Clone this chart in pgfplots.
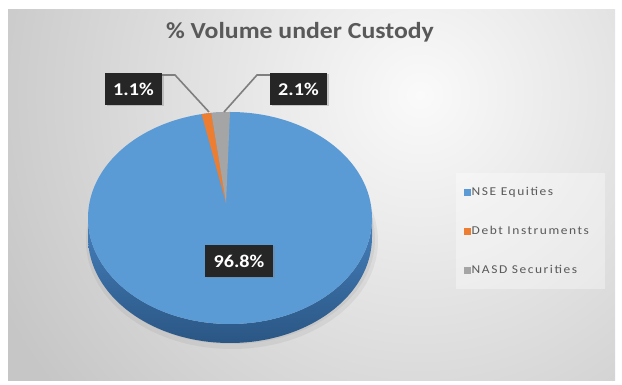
\documentclass[border=0pt]{standalone}
\usepackage{pgfplots}
\pgfplotsset{compat=1.18}
\usepackage{fontspec}
\setmainfont{Carlito}[FakeStretch=1.12]
\newfontfamily\legfont{Carlito}[FakeStretch=1.12, LetterSpace=13]
\usetikzlibrary{shadows}
\definecolor{pieblue}{HTML}{5B9BD5}
\definecolor{pieorange}{HTML}{ED7D31}
\definecolor{piegray}{HTML}{A5A5A5}
\definecolor{sidetop}{HTML}{4680BC}
\definecolor{sidebot}{HTML}{2A5684}
\definecolor{bgin}{HTML}{FAFAFA}
\definecolor{bgout}{HTML}{C6C6C6}
\definecolor{titlegray}{HTML}{595959}
\definecolor{labelbg}{HTML}{262626}
\definecolor{leadergray}{HTML}{7F7F7F}
% data (percent of volume)
\def\vNSE{96.8}
\def\vDebt{1.1}
\def\vNASD{2.1}
\pgfmathsetmacro\aA{90-3.6*\vNSE}
\pgfmathsetmacro\aB{\aA-3.6*\vDebt}
\pgfmathsetmacro\aC{\aB-3.6*\vNASD}
\begin{document}
\begin{tikzpicture}
\begin{axis}[
  scale only axis, width=622pt, height=385pt,
  xmin=0, xmax=622, ymin=0, ymax=385,
  hide axis, clip=false,
  legend image code/.code={\fill[#1, draw=none] (0pt,-3.2pt) rectangle (6.5pt,3.2pt);},
  legend cell align=left,
  legend style={at={(axis cs:464,199)}, anchor=north west, draw=none, fill=none,
    inner sep=0pt, row sep=26pt, text=titlegray,
    font=\legfont\fontsize{12}{12}\selectfont,
    nodes={inner sep=1pt, text height=8.5pt, text depth=2.5pt},
    /tikz/every even column/.append style={column sep=2pt}},
]
% background
\fill[white] (axis cs:0,0) rectangle (axis cs:622,385);
\fill[bgout] (axis cs:8,4) rectangle (axis cs:615,375);
\begin{scope}
\clip (axis cs:8,4) rectangle (axis cs:615,375);
\shade[inner color=bgin, outer color=bgout] (axis cs:420,290) circle[radius=470pt];
\end{scope}
% legend panel
\fill[white, opacity=0.35] (axis cs:456,96) rectangle (axis cs:605,212);
% shadow
\fill[black, opacity=0.05] (axis cs:232,144) ellipse[x radius=146pt, y radius=108pt];
\fill[black, opacity=0.05] (axis cs:232,146) ellipse[x radius=143pt, y radius=105pt];
% side of the pie
\shade[top color=sidetop, bottom color=sidebot]
  (axis cs:230,167) ++(180:142pt and 106pt) -- ++(0pt,-19pt)
  arc[start angle=180, end angle=360, x radius=142pt, y radius=106pt]
  -- ++(0pt,19pt)
  arc[start angle=0, end angle=-180, x radius=142pt, y radius=106pt] -- cycle;
% top face (NSE Equities)
\fill[pieblue] (axis cs:230,167) ellipse[x radius=142pt, y radius=106pt];
% Debt Instruments
\fill[pieorange] (axis cs:230,167) ++(\aA:142pt and 106pt)
  arc[start angle=\aA, end angle=\aB, x radius=142pt, y radius=106pt]
  -- (axis cs:226,182) -- cycle;
% NASD Securities
\fill[piegray] (axis cs:230,167) ++(\aB:142pt and 106pt)
  arc[start angle=\aB, end angle=\aC, x radius=142pt, y radius=106pt]
  -- (axis cs:226,182) -- cycle;
% leader lines
\draw[leadergray, line width=1.6pt] (axis cs:162,310) -- (axis cs:175,310) -- (axis cs:209,273);
\draw[leadergray, line width=1.6pt] (axis cs:270,310) -- (axis cs:257,310) -- (axis cs:224,273);
% data labels
\tikzset{dlab/.style={fill=labelbg, text=white, inner sep=0pt,
  font=\bfseries\fontsize{18}{18}\selectfont, minimum height=32pt,
  drop shadow={opacity=0.35, shadow xshift=1.5pt, shadow yshift=-1.5pt}}}
\node[dlab, minimum width=68pt] at (axis cs:239,124) {96.8\%};
\node[dlab, minimum width=57pt] at (axis cs:133.5,296) {1.1\%};
\node[dlab, minimum width=57pt] at (axis cs:298.5,296) {2.1\%};
% title
\node[font=\bfseries\fontsize{23}{23}\selectfont, text=titlegray] at (axis cs:300,353) {\% Volume under Custody};
% legend
\addlegendimage{fill=pieblue}
\addlegendimage{fill=pieorange}
\addlegendimage{fill=piegray}
\legend{NSE Equities, Debt Instruments, NASD Securities}
\end{axis}
\end{tikzpicture}
\end{document}
